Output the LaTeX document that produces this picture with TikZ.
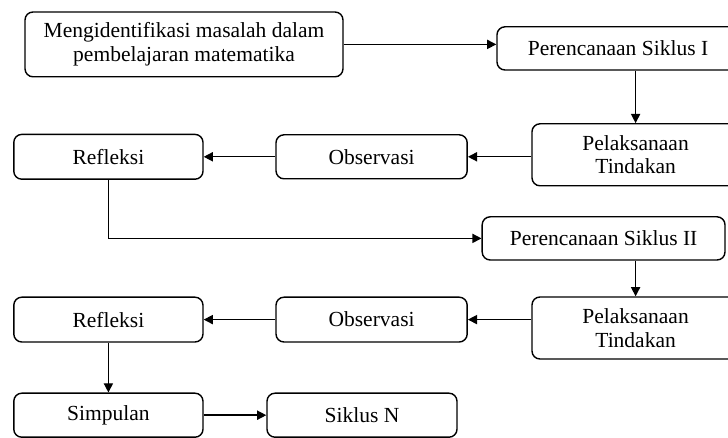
\documentclass[tikz,border=0pt]{standalone}
\usepackage{fontspec}
\setmainfont{Liberation Serif}
\usepackage{tikz}
\usetikzlibrary{arrows.meta,positioning,calc}
\tikzset{
  box/.style={draw, line width=1pt, rounded corners=2mm, align=center, inner sep=2pt,
    font=\fontsize{15.3}{16.8}\selectfont, fill=white},
  ar/.style={-{Triangle[length=2.3mm,width=2.3mm]}, line width=1pt},
}
\begin{document}
\begin{tikzpicture}
\useasboundingbox (0,0) rectangle (18.2,-10.95);
% start
\node[box, minimum width=7.95cm, minimum height=1.62cm] (ident) at (4.6,-1.11) {Mengidentifikasi masalah dalam\\pembelajaran matematika};
% cycle I
\node[box, minimum width=6.05cm, minimum height=1.08cm] (per1) at (15.45,-1.21) {Perencanaan Siklus I};
\node[box, minimum width=5.18cm, minimum height=1.55cm] (pel1) at (15.89,-3.87) {Pelaksanaan\\Tindakan};
\node[box, minimum width=4.78cm, minimum height=1.1cm] (obs1) at (9.29,-3.92) {Observasi};
\node[box, minimum width=4.73cm, minimum height=1.12cm] (ref1) at (2.71,-3.92) {Refleksi};
\draw[ar] (ident) -- (ident -| per1.west);
\draw[ar] (per1.south -| pel1.north) -- (pel1.north);
\draw[ar] (pel1.west |- obs1) -- (obs1);
\draw[ar] (obs1) -- (ref1);
% cycle II
\node[box, minimum width=6.07cm, minimum height=1.08cm] (per2) at (15.09,-5.96) {Perencanaan Siklus II};
\node[box, minimum width=5.18cm, minimum height=1.55cm] (pel2) at (15.89,-8.2) {Pelaksanaan\\Tindakan};
\node[box, minimum width=4.78cm, minimum height=1.12cm] (obs2) at (9.29,-7.99) {Observasi};
\node[box, minimum width=4.73cm, minimum height=1.12cm] (ref2) at (2.71,-7.99) {Refleksi};
\draw[ar] (ref1.south) |- (per2.west);
\draw[ar] (per2.south -| pel2.north) -- (pel2.north);
\draw[ar] (pel2.west |- obs2) -- (obs2);
\draw[ar] (obs2) -- (ref2);
% end
\node[box, minimum width=4.73cm, minimum height=1.1cm] (simp) at (2.71,-10.38) {Simpulan};
\node[box, minimum width=4.75cm, minimum height=1.1cm] (sikn) at (9.05,-10.38) {Siklus N};
\draw[ar] (ref2) -- (simp);
\draw[ar] (simp) -- (sikn);
\end{tikzpicture}
\end{document}
